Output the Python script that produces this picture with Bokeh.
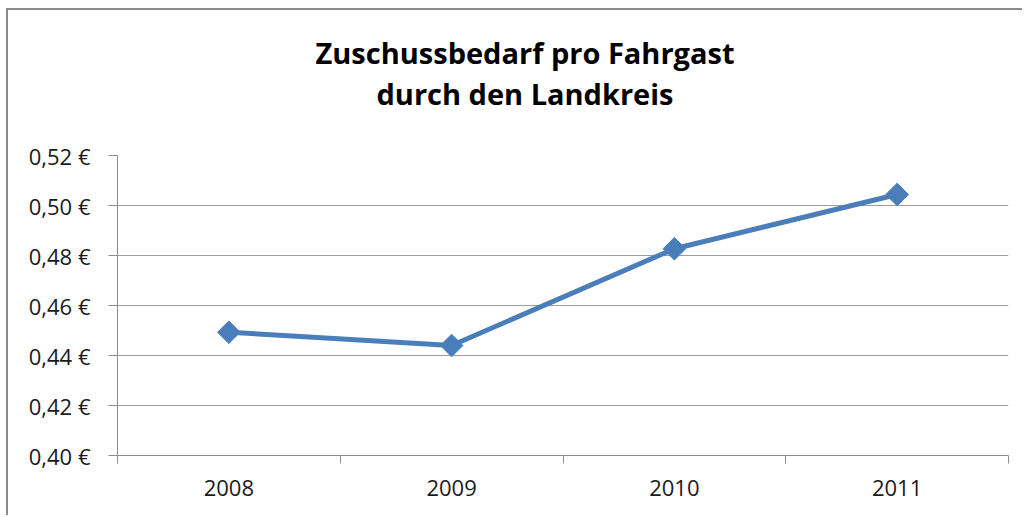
import math
from bokeh.plotting import figure
from bokeh.models import FixedTicker, CustomJSTickFormatter, Range1d, ColumnDataSource, Title
from bokeh.embed import file_html
from bokeh.resources import INLINE

years = ["2008", "2009", "2010", "2011"]
values = [0.4493, 0.4440, 0.4827, 0.5044]
y_ticks = [0.40, 0.42, 0.44, 0.46, 0.48, 0.50, 0.52]
title_lines = ["Zuschussbedarf pro Fahrgast", "durch den Landkreis"]

xs = list(range(1, len(years) + 1))
src = ColumnDataSource(dict(x=xs, y=values))

p = figure(width=1016, height=507, output_backend="svg", toolbar_location=None,
           x_range=Range1d(0.5, len(years) + 0.5), y_range=Range1d(0.40, 0.52),
           min_border_left=109, min_border_right=16, min_border_bottom=62, min_border_top=145,
           styles={"margin-left": "6px", "margin-top": "8px",
                   "border-left": "2px solid #8a8a8a", "border-top": "2px solid #8a8a8a"})

def make_title(text, standoff, offset):
    return Title(text=text, align="left", offset=offset, text_font="Open Sans",
                 text_font_size="29px", text_font_style="bold", text_color="#000000",
                 standoff=standoff)

# spacer between the plot frame and the second title line
p.add_layout(make_title(" ", 2, 0), "above")
p.add_layout(make_title(title_lines[1], 0, 259), "above")
p.title = make_title(title_lines[0], 0, 198)

p.outline_line_color = None
p.background_fill_color = "white"
p.border_fill_color = "white"

# y axis
p.yaxis.ticker = FixedTicker(ticks=y_ticks)
p.yaxis.formatter = CustomJSTickFormatter(code="return tick.toFixed(2).replace('.', ',') + ' €';")
p.yaxis.major_tick_in = 0
p.yaxis.major_tick_out = 9
p.yaxis.minor_tick_line_color = None
p.yaxis.axis_line_color = "#8c8c8c"
p.yaxis.major_tick_line_color = "#8c8c8c"
p.yaxis.major_label_text_font = "Open Sans"
p.yaxis.major_label_text_font_size = "22px"
p.yaxis.major_label_text_color = "#1a1a1a"
p.yaxis.major_label_standoff = 18

# x axis
p.xaxis.ticker = FixedTicker(ticks=xs, minor_ticks=[x + 0.5 for x in range(0, len(years) + 1)])
p.xaxis.formatter = CustomJSTickFormatter(args=dict(labels=years),
                                          code="return labels[Math.round(tick) - 1];")
p.xaxis.major_tick_line_color = None
p.xaxis.minor_tick_in = 0
p.xaxis.minor_tick_out = 8
p.xaxis.minor_tick_line_color = "#8c8c8c"
p.xaxis.axis_line_color = "#8c8c8c"
p.xaxis.major_label_text_font = "Open Sans"
p.xaxis.major_label_text_font_size = "22px"
p.xaxis.major_label_text_color = "#1a1a1a"
p.xaxis.major_label_standoff = 16

p.xgrid.grid_line_color = None
p.ygrid.grid_line_color = "#9c9c9c"
p.ygrid.grid_line_width = 1

p.line("x", "y", source=src, line_color="#4a7ebb", line_width=5)
p.scatter("x", "y", source=src, marker="square", size=16, angle=math.pi / 4,
          fill_color="#4a7ebb", line_color="#4a7ebb")

open("out.html", "w").write(file_html(p, INLINE))
